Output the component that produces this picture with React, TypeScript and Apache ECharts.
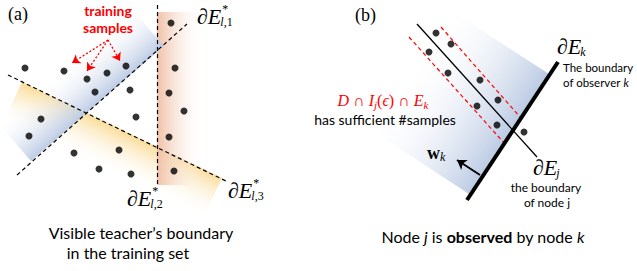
import React, { useEffect, useRef } from "react";
import * as echarts from "echarts";

const W = 637;
const H = 271;

// ---- panel (a) data ----
const dotsA: number[][] = [
  [25, 68], [64, 71], [87, 79], [107, 73], [126, 66], [95, 92], [130, 90],
  [41, 119], [136, 117], [29, 136], [74, 153], [119, 150], [99, 169], [131, 174],
  [171, 23], [175, 68], [169, 93], [184, 111], [169, 137], [174, 171],
];
const boundaryA: number[][][] = [
  [[157, 5], [157, 186]],
  [[17, 175], [187, 24]],
  [[8, 75], [228, 182]],
];
const sampleArrows: number[][][] = [
  [[108, 40], [72, 63]],
  [[108, 40], [87, 71]],
  [[108, 40], [120, 61]],
];
const bandYellowA = [[22, 82], [222, 178], [203, 218], [3, 122]];
const bandBlueA = [[164, 46], [130, 7], [-3, 122], [31, 161]];
const bandSalmonA = [[157, 12], [205, 12], [205, 185], [157, 185]];

// ---- panel (b) data ----
const dotsB: number[][] = [
  [436, 33], [451, 44], [429, 52], [448, 73], [480, 80], [498, 100],
  [477, 106], [497, 125], [524, 132],
];
const redLinesB: number[][][] = [
  [[441, 27], [520, 117]],
  [[409, 37], [505, 144]],
];
const nodeJLine: number[][][] = [[[417, 24], [537, 157]]];
const observerLine: number[][][] = [[[558, 62], [467, 200]]];
const normalArrow: number[][][] = [[[480, 175], [457, 160]]];
const bandBlueB = [[549, 74], [447, 8], [368, 128], [469, 194]];

const mid = (a: number[], b: number[]) => [(a[0] + b[0]) / 2, (a[1] + b[1]) / 2];

const bands = [
  { poly: bandYellowA, from: mid(bandYellowA[0], bandYellowA[1]), to: mid(bandYellowA[2], bandYellowA[3]), color: "#fadc98" },
  { poly: bandSalmonA, from: [157, 100], to: [205, 100], color: "#f0c0a6" },
  { poly: bandBlueA, from: mid(bandBlueA[0], bandBlueA[3]), to: mid(bandBlueA[1], bandBlueA[2]), color: "#bccbe4" },
  { poly: bandBlueB, from: mid(bandBlueB[0], bandBlueB[3]), to: mid(bandBlueB[1], bandBlueB[2]), color: "#bccbe4" },
];

const SERIF = '"Liberation Serif", "DejaVu Serif", serif';
const SANS = 'Lato, "Open Sans", sans-serif';

let measureCtx: CanvasRenderingContext2D | null = null;
function measure(text: string, font: string) {
  if (!measureCtx) measureCtx = document.createElement("canvas").getContext("2d");
  if (!measureCtx) return text.length * 8;
  measureCtx.font = font;
  return measureCtx.measureText(text).width;
}

function txt(x: number, y: number, text: string, font: string, opts: any = {}) {
  return {
    type: "text",
    x,
    y,
    z: 100,
    style: {
      text,
      font,
      fill: opts.fill || "#000",
      textAlign: opts.align || "left",
      align: opts.align || "left",
      textVerticalAlign: "middle",
      verticalAlign: "middle",
      rich: opts.rich,
    },
  };
}

function mathLabel(x: number, y: number, size: number, sup: string | null, subRich: string, subRichStyles: any) {
  const font = `italic ${size}px ${SERIF}`;
  const w = measure("∂E", font);
  const els: any[] = [txt(x, y, "∂E", font)];
  if (sup) els.push(txt(x + w + 1, y - size * 0.3, sup, `${Math.round(size * 0.55)}px ${SERIF}`));
  els.push(
    txt(x + w - 1, y + size * 0.27, subRich, `italic ${Math.round(size * 0.55)}px ${SERIF}`, { rich: subRichStyles })
  );
  return els;
}

export default function App() {
  const ref = useRef<HTMLDivElement>(null);
  useEffect(() => {
    if (!ref.current) return;
    const chart = echarts.init(ref.current, null, { renderer: "svg" });
    const subStyles = {
      i: { fontStyle: "italic", fontFamily: SERIF, fontSize: 12 },
      u: { fontStyle: "normal", fontFamily: SERIF, fontSize: 12 },
    };
    const wW = measure("w", `bold 18px ${SERIF}`);
    const graphic: any[] = [
      txt(8, 14, "(a)", `18px ${SERIF}`),
      txt(355, 15, "(b)", `18px ${SERIF}`),
      txt(108, 10, "training", `bold 14px ${SANS}`, { fill: "#ff0000", align: "center" }),
      txt(108, 27, "samples", `bold 14px ${SANS}`, { fill: "#ff0000", align: "center" }),
      ...mathLabel(197, 16, 22, "*", "{i|l}{u|,1}", subStyles),
      ...mathLabel(127, 198, 22, "*", "{i|l}{u|,2}", subStyles),
      ...mathLabel(228, 190, 22, "*", "{i|l}{u|,3}", subStyles),
      txt(141, 232, "Visible teacher\u2019s boundary", `16px ${SANS}`, { align: "center" }),
      txt(128, 252, "in the training set", `16px ${SANS}`, { align: "center" }),
      ...mathLabel(557, 46, 22, null, "k", {}),
      txt(563, 67, "The boundary", `11.5px ${SANS}`),
      txt(563, 82, "of observer {i|k}", `11.5px ${SANS}`, { rich: { i: { fontStyle: "italic", fontSize: 11.5, fontFamily: SANS } } }),
      ...mathLabel(533, 167, 22, null, "j", {}),
      txt(546, 187, "the boundary", `12px ${SANS}`, { align: "center" }),
      txt(547, 202, "of node j", `12px ${SANS}`, { align: "center" }),
      txt(427, 153, "w", `bold 18px ${SERIF}`),
      txt(427 + wW, 157, "k", `italic 12px ${SERIF}`),
      txt(383, 100, "{i|D}{u| \u2229 }{i|I}{s|j}{u|(}{i|\u03f5}{u|) \u2229 }{i|E}{s|k}", `16px ${SERIF}`, {
        fill: "#ff0000",
        align: "center",
        rich: {
          i: { fontStyle: "italic", fontFamily: SERIF, fontSize: 16, fill: "#ff0000", color: "#ff0000", lineHeight: 20 },
          u: { fontFamily: SERIF, fontSize: 16, fill: "#ff0000", color: "#ff0000", lineHeight: 20 },
          s: { fontStyle: "italic", fontFamily: SERIF, fontSize: 11, fill: "#ff0000", color: "#ff0000", verticalAlign: "bottom", lineHeight: 14 },
        },
      }),
      txt(385, 119, "has sufficient #samples", `14px ${SANS}`, { align: "center" }),
      txt(483, 236, "{n|Node }{i|j}{n| is }{b|observed}{n| by node }{i|k}", `16px ${SANS}`, {
        align: "center",
        rich: {
          n: { fontFamily: SANS, fontSize: 16 },
          i: { fontFamily: SANS, fontSize: 16, fontStyle: "italic" },
          b: { fontFamily: SANS, fontSize: 16, fontWeight: "bold" },
        },
      }),
    ];

    const segs = (arr: number[][][]) => arr.map((c) => ({ coords: c }));

    chart.setOption({
      animation: false,
      grid: { left: 0, right: 0, top: 0, bottom: 0 },
      xAxis: { type: "value", min: 0, max: W, show: false },
      yAxis: { type: "value", min: 0, max: H, inverse: true, show: false },
      graphic,
      series: [
        {
          type: "custom",
          coordinateSystem: "cartesian2d",
          data: bands.map((_, i) => [i, i]),
          z: 1,
          silent: true,
          renderItem: (params: any, api: any) => {
            const b = bands[params.dataIndex];
            const pts = b.poly.map((p) => api.coord(p));
            const f = api.coord(b.from);
            const t = api.coord(b.to);
            return {
              type: "polygon",
              shape: { points: pts },
              style: {
                fill: new echarts.graphic.LinearGradient(f[0], f[1], t[0], t[1], [
                  { offset: 0, color: b.color },
                  { offset: 1, color: "rgba(255,255,255,0)" },
                ], true),
              },
            };
          },
        },
        {
          type: "lines",
          coordinateSystem: "cartesian2d",
          z: 3,
          data: segs(boundaryA),
          lineStyle: { color: "#000", width: 1.2, type: [4, 3], opacity: 1 },
        },
        {
          type: "lines",
          coordinateSystem: "cartesian2d",
          z: 3,
          data: segs(redLinesB),
          lineStyle: { color: "#ff0000", width: 1.2, type: [4, 3], opacity: 1 },
        },
        {
          type: "lines",
          coordinateSystem: "cartesian2d",
          z: 3,
          data: segs(nodeJLine),
          lineStyle: { color: "#000", width: 1.3, type: "solid", opacity: 1 },
        },
        {
          type: "lines",
          coordinateSystem: "cartesian2d",
          z: 4,
          data: segs(observerLine),
          lineStyle: { color: "#000", width: 4, type: "solid", opacity: 1 },
        },
        {
          type: "lines",
          coordinateSystem: "cartesian2d",
          z: 4,
          data: segs(normalArrow),
          symbol: ["none", "arrow"],
          symbolSize: 9,
          lineStyle: { color: "#000", width: 2, type: "solid", opacity: 1 },
        },
        {
          type: "lines",
          coordinateSystem: "cartesian2d",
          z: 4,
          data: segs(sampleArrows),
          symbol: ["none", "arrow"],
          symbolSize: 8,
          lineStyle: { color: "#ff0000", width: 1.3, type: [2, 2], opacity: 1 },
        },
        {
          type: "scatter",
          z: 5,
          data: dotsA,
          symbolSize: 7,
          itemStyle: { color: "#000" },
        },
        {
          type: "scatter",
          z: 5,
          data: dotsB,
          symbolSize: 7,
          itemStyle: { color: "#000" },
        },
      ],
    });
    return () => chart.dispose();
  }, []);
  return <div ref={ref} style={{ position: "fixed", left: 0, top: 0, width: W, height: H, background: "#fff" }} />;
}
